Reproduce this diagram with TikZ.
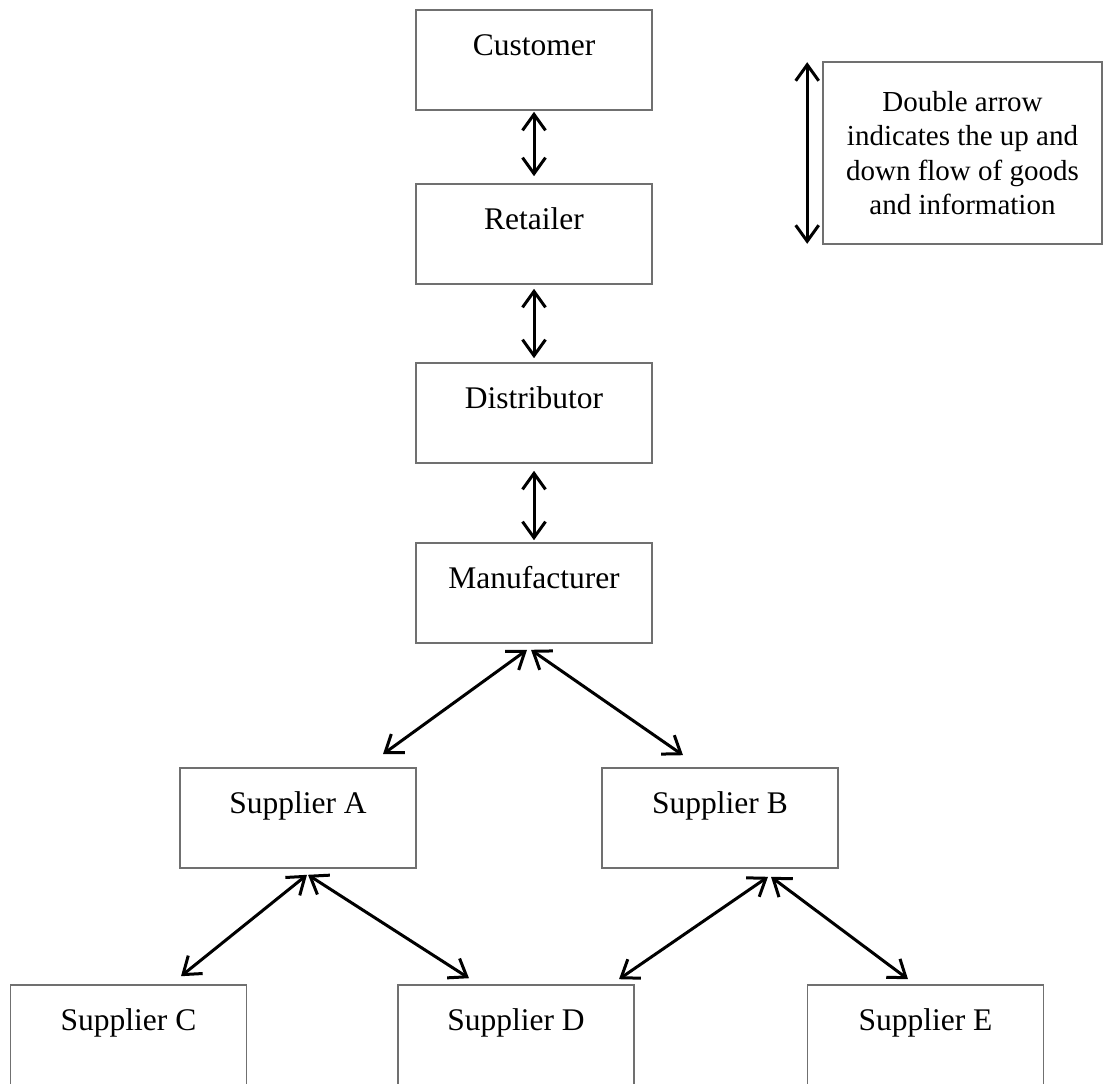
\documentclass[tikz,border=0pt]{standalone}
\usepackage{fontspec}
\setmainfont{Liberation Serif}
\usetikzlibrary{arrows.meta}
\definecolor{boxgray}{RGB}{112,112,112}
\tikzset{
  stagebox/.style={draw=boxgray, line width=1.6pt, rectangle, inner xsep=0pt, inner ysep=0pt,
    minimum width=236pt, minimum height=100pt, text height=45pt, text depth=55pt,
    font=\fontsize{31.5}{36}\selectfont},
  legendbox/.style={draw=boxgray, line width=1.6pt, rectangle, inner sep=0pt,
    minimum width=279pt, minimum height=182pt, align=center,
    font=\fontsize{29}{34.5}\selectfont},
  dbl/.style={line width=3pt, {Straight Barb[length=16pt,width=23pt]}-{Straight Barb[length=16pt,width=23pt]}}
}
\begin{document}
\begin{tikzpicture}[x=1pt,y=-1pt]
\useasboundingbox[fill=white] (0,0) rectangle (1103,1084);
\node[stagebox] (cust) at (534,60) {Customer};
\node[stagebox] (ret) at (534,234) {Retailer};
\node[stagebox] (dist) at (534,413) {Distributor};
\node[stagebox] (manu) at (534,593) {Manufacturer};
\node[stagebox] (supA) at (298,818) {Supplier A};
\node[stagebox] (supB) at (720,818) {Supplier B};
\node[stagebox] (supC) at (128.5,1035) {Supplier C};
\node[stagebox] (supD) at (516,1035) {Supplier D};
\node[stagebox] (supE) at (925.5,1035) {Supplier E};
\node[legendbox] (legend) at (962.5,153) {Double arrow\\indicates the up and\\down flow of goods\\and information};

\draw[dbl, shorten <=1pt, shorten >=7pt] (cust.south) -- (ret.north);
\draw[dbl, shorten <=4pt, shorten >=4pt] (ret.south) -- (dist.north);
\draw[dbl, shorten <=7pt, shorten >=2pt] (dist.south) -- (manu.north);

\draw[dbl] ([xshift=-7pt,yshift=-6pt]manu.south) -- ([xshift=85pt,yshift=13pt]supA.north);
\draw[dbl] ([xshift=-3pt,yshift=-6pt]manu.south) -- ([xshift=-37pt,yshift=12pt]supB.north);

\draw[dbl] ([xshift=9pt,yshift=-6pt]supA.south) -- ([xshift=52.5pt,yshift=8pt]supC.north);
\draw[dbl] ([xshift=10pt,yshift=-6pt]supA.south) -- ([xshift=-47pt,yshift=6pt]supD.north);

\draw[dbl] ([xshift=48pt,yshift=-8pt]supB.south) -- ([xshift=103pt,yshift=5pt]supD.north);
\draw[dbl] ([xshift=51pt,yshift=-8pt]supB.south) -- ([xshift=-17.5pt,yshift=5pt]supE.north);

\draw[dbl] ([xshift=-15pt,yshift=-1pt]legend.north west) -- ([xshift=-15pt,yshift=1pt]legend.south west);
\end{tikzpicture}
\end{document}
